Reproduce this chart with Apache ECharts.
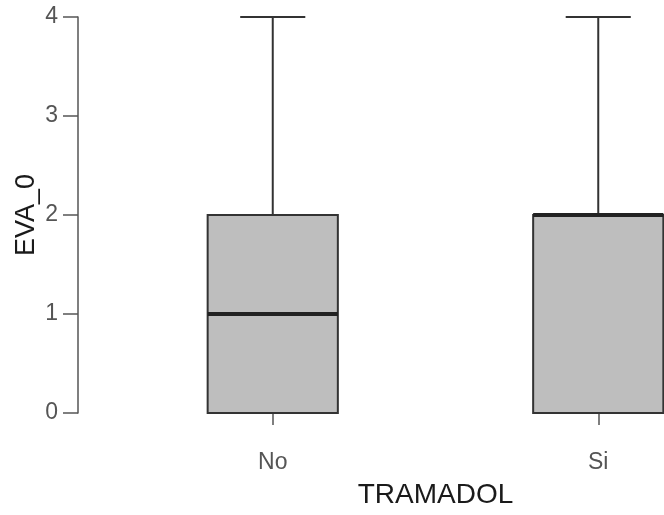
<!DOCTYPE html>
<html>
<head>
<meta charset="utf-8">
<script src="https://cdn.jsdelivr.net/npm/echarts@6/dist/echarts.min.js"></script>
<style>html,body{margin:0;padding:0;background:#fff}#c{width:664px;height:515px}</style>
</head>
<body>
<div id="c"></div>
<script>
const categories = ['No', 'Si'];
const minVals = [0, 0];
const q1Vals = [0, 0];
const medianVals = [1, 2];
const q3Vals = [2, 2];
const maxVals = [4, 4];
const yTicks = [0, 1, 2, 3, 4];

const data = categories.map((c, i) => [i, minVals[i], q1Vals[i], medianVals[i], q3Vals[i], maxVals[i]]);
const FONT = 'Liberation Sans, Arial, sans-serif';

const chart = echarts.init(document.getElementById('c'), null, {renderer: 'canvas'});
chart.setOption({
  animation: false,
  backgroundColor: '#fff',
  grid: {left: 110, top: 17, height: 396, width: 651, containLabel: false, outerBoundsMode: 'none'},
  xAxis: {
    type: 'category',
    data: categories,
    offset: 20,
    axisLine: {show: false},
    axisTick: {show: true, alignWithLabel: true, length: 12, lineStyle: {color: '#555', width: 1.5}},
    axisLabel: {color: '#555', fontSize: 23, fontFamily: FONT, margin: 18},
    splitLine: {show: false},
    name: 'TRAMADOL',
    nameLocation: 'middle',
    nameGap: 48,
    nameMoveOverlap: false,
    nameTextStyle: {color: '#1a1a1a', fontSize: 28, fontFamily: FONT}
  },
  yAxis: {
    type: 'value',
    min: yTicks[0],
    max: yTicks[yTicks.length - 1],
    interval: 1,
    offset: 32,
    axisLine: {show: true, lineStyle: {color: '#555', width: 1.5}},
    axisTick: {show: true, length: 15, lineStyle: {color: '#555', width: 1.5}},
    axisLabel: {color: '#555', fontSize: 23, fontFamily: FONT, margin: 20},
    splitLine: {show: false},
    name: 'EVA_0',
    nameLocation: 'middle',
    nameRotate: 90,
    nameGap: 38,
    nameMoveOverlap: false,
    nameTextStyle: {color: '#1a1a1a', fontSize: 27, fontFamily: FONT}
  },
  series: [{
    type: 'custom',
    clip: false,
    data: data,
    encode: {x: 0, y: [1, 2, 3, 4, 5]},
    renderItem: function (params, api) {
      const idx = api.value(0);
      const band = api.size([1, 0])[0];
      const bw = band * 0.4;
      const cw = bw / 2;
      const pMin = api.coord([idx, api.value(1)]);
      const pQ1 = api.coord([idx, api.value(2)]);
      const pMed = api.coord([idx, api.value(3)]);
      const pQ3 = api.coord([idx, api.value(4)]);
      const pMax = api.coord([idx, api.value(5)]);
      const cx = pMed[0];
      const ls = {stroke: '#333', lineWidth: 2};
      return {
        type: 'group',
        children: [
          {type: 'line', shape: {x1: cx, y1: pQ3[1], x2: cx, y2: pMax[1]}, style: ls},
          {type: 'line', shape: {x1: cx, y1: pQ1[1], x2: cx, y2: pMin[1]}, style: ls},
          {type: 'line', shape: {x1: cx - cw / 2, y1: pMax[1], x2: cx + cw / 2, y2: pMax[1]}, style: ls},
          {type: 'line', shape: {x1: cx - cw / 2, y1: pMin[1], x2: cx + cw / 2, y2: pMin[1]}, style: ls},
          {type: 'rect', shape: {x: cx - bw / 2, y: pQ3[1], width: bw, height: pQ1[1] - pQ3[1]},
            style: {fill: '#bebebe', stroke: '#333', lineWidth: 2}},
          {type: 'line', shape: {x1: cx - bw / 2, y1: pMed[1], x2: cx + bw / 2, y2: pMed[1]},
            style: {stroke: '#222', lineWidth: 4}}
        ]
      };
    }
  }]
});
</script>
</body>
</html>
